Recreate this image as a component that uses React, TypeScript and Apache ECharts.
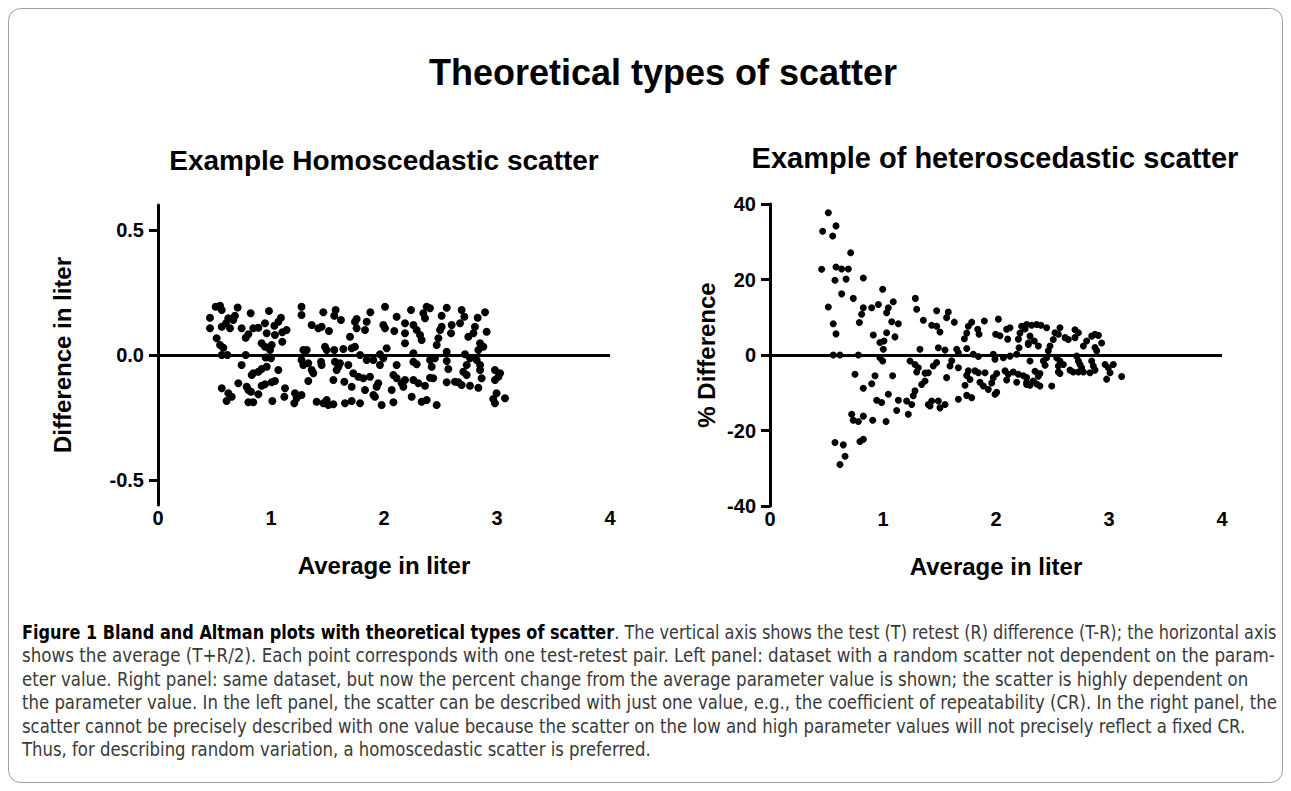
import React, { useEffect, useRef } from 'react';
import * as echarts from 'echarts';

const mainTitle = 'Theoretical types of scatter';
const leftTitle = 'Example Homoscedastic scatter';
const rightTitle = 'Example of heteroscedastic scatter';
const xAxisTitle = 'Average in liter';
const leftYAxisTitle = 'Difference in liter';
const rightYAxisTitle = '% Difference';
const leftYTicks = [-0.5, 0, 0.5];

// Left panel: difference in liter vs average in liter
const homoscedasticPoints: [number, number][] = [
  [0.51, 0.193], [0.549, 0.197], [0.564, 0.18], [0.705, 0.19], [0.82, 0.167], [0.982, 0.176], [1.27, 0.193],
  [0.46, 0.149], [0.622, 0.147], [0.681, 0.157], [0.666, 0.14], [0.602, 0.127], [0.564, 0.113], [0.637, 0.107],
  [0.74, 0.107], [0.843, 0.107], [0.888, 0.109], [0.947, 0.127], [1.03, 0.117], [1.088, 0.149], [1.065, 0.133],
  [1.138, 0.1], [1.1, 0.091], [1.27, 0.16], [0.46, 0.107], [0.799, 0.083], [0.776, 0.069], [0.962, 0.087],
  [1.035, 0.08], [1.1, 0.053], [0.519, 0.067], [0.549, 0.04], [0.578, 0.029], [0.917, 0.047], [0.947, 0.033],
  [1.006, 0.04], [0.991, 0.02], [0.564, 0], [0.614, 0], [0.776, 0], [0.953, -0.01], [1.0, -0.013], [1.286, 0.02],
  [1.27, -0.02], [1.286, -0.04], [0.74, -0.04], [0.843, -0.073], [0.888, -0.067], [0.829, -0.08], [1.065, -0.06],
  [0.917, -0.056], [0.962, -0.047], [0.711, -0.113], [0.785, -0.127], [0.8, -0.14], [0.947, -0.117], [1.006, -0.109],
  [1.035, -0.104], [0.917, -0.123], [0.564, -0.133], [0.622, -0.153], [0.652, -0.167], [0.607, -0.184], [0.823, -0.147],
  [0.888, -0.157], [0.8, -0.189], [0.843, -0.189], [1.012, -0.184], [1.118, -0.167], [1.124, -0.133], [1.212, -0.153],
  [1.227, -0.173], [1.206, -0.193], [1.27, -0.16],
  [1.463, 0.171], [1.572, 0.18], [1.56, 0.157], [1.619, 0.14], [1.879, 0.171], [2.009, 0.193], [2.239, 0.18],
  [2.112, 0.153], [1.758, 0.144], [1.743, 0.133], [1.847, 0.133], [1.994, 0.12], [2.009, 0.107], [2.091, 0.096],
  [2.186, 0.127], [2.186, 0.087], [2.26, 0.12], [1.36, 0.12], [1.419, 0.107], [1.448, 0.113], [1.513, 0.096],
  [1.758, 0.107], [1.832, 0.1], [1.699, 0.073], [2.186, 0.047], [1.478, 0.033], [1.493, 0.02], [1.56, 0.02],
  [1.64, 0.024], [1.714, 0.027], [1.743, 0.033], [2.024, 0.027], [1.964, 0.003], [1.994, -0.013], [1.788, 0.0],
  [1.847, -0.02], [1.906, -0.02], [1.316, 0.02], [2.26, 0.007], [1.33, -0.033], [1.36, -0.06], [1.375, -0.073],
  [1.443, -0.027], [1.448, -0.04], [1.566, -0.027], [1.596, -0.047], [1.61, -0.033], [1.581, -0.06], [1.684, -0.04],
  [1.964, -0.04], [2.112, -0.04], [2.26, -0.027], [1.728, -0.073], [1.773, -0.087], [1.817, -0.093], [1.876, -0.087],
  [1.552, -0.1], [1.33, -0.104], [1.649, -0.107], [1.714, -0.127], [1.832, -0.14], [1.949, -0.113], [1.935, -0.127],
  [2.083, -0.08], [2.112, -0.093], [2.156, -0.113], [2.186, -0.1], [2.171, -0.127], [2.068, -0.14], [2.26, -0.1],
  [1.906, -0.16], [1.92, -0.167], [2.245, -0.167], [1.404, -0.187], [1.463, -0.193], [1.493, -0.18], [1.507, -0.2],
  [1.552, -0.197], [1.655, -0.193], [1.714, -0.184], [1.788, -0.193], [1.979, -0.2], [2.083, -0.189],
  [2.378, 0.193], [2.407, 0.187], [2.348, 0.167], [2.363, 0.147], [2.555, 0.189], [2.687, 0.18], [2.711, 0.153],
  [2.894, 0.171], [2.829, 0.149], [2.51, 0.157], [2.599, 0.12], [2.51, 0.113], [2.496, 0.1], [2.673, 0.127],
  [2.593, 0.087], [2.805, 0.113], [2.791, 0.087], [2.746, 0.073], [2.908, 0.093], [2.481, 0.067], [2.466, 0.04],
  [2.289, 0.1], [2.319, 0.08], [2.333, 0.06], [2.85, 0.047], [2.879, 0.033], [2.835, 0.02], [2.555, 0.013],
  [2.717, 0.003], [2.761, -0.013], [2.82, -0.02], [2.407, -0.02], [2.451, -0.013], [2.289, -0.037], [2.422, -0.047],
  [2.555, -0.024], [2.569, -0.056], [2.732, -0.04], [2.85, -0.04], [2.85, -0.06], [2.982, -0.06], [3.027, -0.073],
  [3.012, -0.087], [2.982, -0.1], [2.407, -0.091], [2.436, -0.093], [2.702, -0.067], [2.732, -0.08], [2.864, -0.093],
  [2.628, -0.107], [2.658, -0.109], [2.555, -0.109], [2.687, -0.12], [2.761, -0.123], [2.835, -0.131], [2.304, -0.113],
  [2.363, -0.123], [2.996, -0.153], [3.071, -0.173], [2.967, -0.176], [2.982, -0.193], [2.333, -0.187], [2.378, -0.18],
  [2.466, -0.2],
];

// Right panel: % difference vs average in liter
const heteroscedasticPoints: [number, number][] = [
  [0.516, 37.7], [0.584, 34.2], [0.466, 32.8], [0.555, 31.5], [0.714, 27.1], [0.457, 22.7], [0.584, 23.3],
  [0.634, 22.8], [0.693, 22.8], [0.575, 19.8], [0.673, 20.1], [0.826, 20.4], [0.634, 16.2], [0.737, 15.0],
  [0.997, 17.4], [0.516, 12.7], [0.826, 12.5], [0.811, 10.8], [0.9, 12.5], [0.959, 13.4], [1.047, 12.5],
  [1.091, 14.1], [1.032, 11.2], [0.791, 8.6], [0.56, 8.3], [0.584, 5.6], [1.077, 8.8], [1.136, 8.3], [1.106, 4.8],
  [1.032, 5.9], [0.914, 5.3], [0.973, 3.3], [1.009, 3.7], [1.003, 1.5], [1.286, 15.0], [1.298, 12.1], [1.357, 9.2],
  [1.327, 1.5], [0.56, 0], [0.619, 0], [0.782, 0], [0.973, -0.7], [0.997, -1.6], [1.239, -1.6], [1.283, -2.5],
  [1.313, -3.4], [1.298, -4.5], [1.372, -4.8], [0.752, -5.1], [0.929, -5.5], [1.085, -5.5], [0.826, -8.8],
  [0.9, -7.6], [1.342, -7.8], [1.283, -9.5], [1.268, -10.8], [1.047, -10.4], [0.944, -12.0], [0.988, -12.6],
  [1.136, -12.0], [1.209, -12.2], [1.254, -13.1], [1.121, -14.7], [1.224, -15.7], [1.401, -13.1], [0.723, -15.7],
  [0.737, -17.3], [0.782, -17.6], [0.826, -16.2], [0.909, -17.3], [1.027, -17.6], [0.575, -23.2], [0.649, -23.8],
  [0.826, -22.3], [0.796, -22.9], [0.664, -26.8], [0.619, -29.0],
  [1.475, 11.7], [1.578, 11.4], [1.563, 9.9], [1.631, 8.7], [1.431, 7.9], [1.475, 7.6], [1.504, 6.1],
  [1.785, 8.7], [1.897, 9.0], [1.755, 7.6], [1.838, 6.8], [1.85, 5.5], [1.741, 5.8], [1.72, 4.3], [2.021, 9.5],
  [1.997, 5.5], [2.035, 5.1], [2.094, 6.8], [2.124, 7.2], [2.103, 4.2], [2.227, 7.6], [2.257, 6.9], [2.212, 5.8],
  [2.198, 4.2], [2.204, 1.9], [2.286, 3.2], [1.49, 1.9], [1.549, 1.3], [1.652, 1.5], [1.741, 1.7], [1.667, 0.6],
  [1.799, 0.2], [1.844, -0.4], [1.976, 0.2], [1.991, -1.1], [2.065, -0.7], [2.124, -0.3], [2.183, 0.2],
  [1.475, -2.0], [1.445, -2.9], [1.608, -1.5], [1.593, -2.9], [1.667, -3.4], [1.755, -4.2], [1.814, -4.2],
  [1.844, -4.7], [1.903, -4.7], [2.006, -4.9], [1.976, -6.0], [2.08, -4.2], [2.109, -5.1], [2.153, -4.5],
  [2.198, -5.1], [2.242, -5.5], [1.401, -4.7], [1.372, -6.9], [1.563, -6.0], [1.741, -5.4], [1.77, -6.5],
  [1.858, -7.2], [1.962, -7.4], [2.094, -6.6], [2.183, -7.2], [2.271, -6.0], [2.271, -7.8], [1.726, -8.0],
  [1.888, -8.2], [1.932, -9.1], [2.006, -9.9], [1.991, -10.4], [1.667, -11.7], [1.741, -10.7], [1.785, -11.3],
  [1.431, -12.2], [1.49, -12.2], [1.549, -13.1], [1.504, -14.0], [1.416, -13.5],
  [2.271, 8.1], [2.316, 7.9], [2.36, 8.1], [2.398, 7.9], [2.448, 7.2], [2.301, 5.0], [2.339, 3.7], [2.375, 2.4],
  [2.286, 2.8], [2.478, 2.4], [2.463, 1.1], [2.507, 4.1], [2.552, 5.5], [2.566, 7.2], [2.522, 5.9], [2.611, 4.6],
  [2.64, 4.1], [2.699, 6.7], [2.729, 5.9], [2.699, 4.6], [2.802, 3.7], [2.773, 2.4], [2.847, 5.0], [2.876, 5.5],
  [2.906, 5.2], [2.935, 3.2], [2.876, 2.0], [2.891, 1.1], [2.301, -1.6], [2.419, -1.6], [2.434, -2.7],
  [2.448, -0.7], [2.537, -0.7], [2.566, -1.6], [2.552, -2.9], [2.596, -2.5], [2.714, -0.3], [2.729, -1.6],
  [2.743, -2.5], [2.758, -3.4], [2.655, -4.0], [2.684, -4.5], [2.729, -4.5], [2.773, -4.5], [2.847, -1.6],
  [2.861, -2.9], [2.876, -4.0], [2.832, -4.7], [2.965, -2.5], [2.994, -3.4], [3.038, -2.5], [3.009, -4.7],
  [2.979, -6.4], [3.112, -5.7], [2.345, -4.3], [2.389, -4.9], [2.375, -5.6], [2.33, -6.9], [2.271, -7.3],
  [2.301, -8.0], [2.36, -7.7], [2.389, -8.2], [2.493, -8.2], [2.552, -4.5], [2.566, -4.9],
];

const captionBold = 'Figure 1 Bland and Altman plots with theoretical types of scatter';
const captionLines = [
  '. The vertical axis shows the test (T) retest (R) difference (T-R); the horizontal axis',
  'shows the average (T+R/2). Each point corresponds with one test-retest pair. Left panel: dataset with a random scatter not dependent on the param-',
  'eter value. Right panel: same dataset, but now the percent change from the average parameter value is shown; the scatter is highly dependent on',
  'the parameter value. In the left panel, the scatter can be described with just one value, e.g., the coefficient of repeatability (CR). In the right panel, the',
  'scatter cannot be precisely described with one value because the scatter on the low and high parameter values will not precisely reflect a fixed CR.',
  'Thus, for describing random variation, a homoscedastic scatter is preferred.',
];
// Target widths of the full lines (the last, short line uses the mean scale)
const captionWidths = [1254, 1253, 1226, 1255, 1223];
const captionCenters = [633, 656, 680, 703, 727, 750];

const FONT = '"Liberation Sans", Arial, Helvetica, sans-serif';

function buildOption(): any {
  const axisTitleStyle = { fontSize: 24, fontWeight: 'bold', color: '#000', fontFamily: FONT };
  const tickLabelStyle = { fontSize: 20, fontWeight: 'bold', color: '#000', fontFamily: FONT };
  const zeroLine = {
    silent: true,
    symbol: ['none', 'none'],
    label: { show: false },
    lineStyle: { color: '#000', width: 3, type: 'solid', opacity: 1 },
    emphasis: { disabled: true },
    data: [[{ coord: [0, 0] }, { coord: [4, 0] }]],
  };
  const xAxis = [0, 1].map((i) => ({
    type: 'value',
    gridIndex: i,
    min: 0,
    max: 4,
    interval: 1,
    axisLine: { show: false, onZero: false },
    axisTick: { show: false },
    splitLine: { show: false },
    axisLabel: { ...tickLabelStyle, margin: 3 },
    name: xAxisTitle,
    nameLocation: 'middle',
    nameGap: 48,
    nameTextStyle: axisTitleStyle,
  }));
  return {
    animation: false,
    backgroundColor: '#fff',
    grid: [
      { left: 158, top: 205, width: 452, height: 300 },
      { left: 770, top: 204, width: 452, height: 302 },
    ],
    xAxis,
    yAxis: [
      {
        type: 'value',
        gridIndex: 0,
        min: -0.6,
        max: 0.6,
        axisLine: { show: true, onZero: false, lineStyle: { color: '#000', width: 3 } },
        axisTick: { show: true, customValues: leftYTicks, length: 9, lineStyle: { color: '#000', width: 3 } },
        axisLabel: { ...tickLabelStyle, customValues: leftYTicks, margin: 14, formatter: (v: number) => v.toFixed(1) },
        splitLine: { show: false },
        name: leftYAxisTitle,
        nameLocation: 'middle',
        nameRotate: 90,
        nameGap: 84,
        nameTextStyle: axisTitleStyle,
      },
      {
        type: 'value',
        gridIndex: 1,
        min: -40,
        max: 40,
        interval: 20,
        axisLine: { show: true, onZero: false, lineStyle: { color: '#000', width: 3 } },
        axisTick: { show: true, length: 9, lineStyle: { color: '#000', width: 3 } },
        axisLabel: { ...tickLabelStyle, margin: 14 },
        splitLine: { show: false },
        name: rightYAxisTitle,
        nameLocation: 'middle',
        nameRotate: 90,
        nameGap: 52,
        nameTextStyle: axisTitleStyle,
      },
    ],
    series: [
      {
        type: 'scatter',
        xAxisIndex: 0,
        yAxisIndex: 0,
        data: homoscedasticPoints,
        symbolSize: 8,
        itemStyle: { color: '#000', opacity: 1 },
        markLine: zeroLine,
      },
      {
        type: 'scatter',
        xAxisIndex: 1,
        yAxisIndex: 1,
        data: heteroscedasticPoints,
        symbolSize: 7,
        itemStyle: { color: '#000', opacity: 1 },
        markLine: zeroLine,
      },
    ],
    graphic: [
      {
        type: 'rect',
        silent: true,
        shape: { x: 8.5, y: 8.5, width: 1274, height: 774, r: 12 },
        style: { fill: 'none', stroke: '#a0a0a0', lineWidth: 1 },
      },
      {
        type: 'text',
        x: 663,
        y: 72,
        style: {
          text: mainTitle, fontSize: 36, fontWeight: 'bold', fontFamily: FONT, fill: '#000',
          textAlign: 'center', textVerticalAlign: 'middle', align: 'center', verticalAlign: 'middle',
        },
      },
      {
        type: 'text',
        x: 384,
        y: 160,
        style: {
          text: leftTitle, fontSize: 28, fontWeight: 'bold', fontFamily: FONT, fill: '#000',
          textAlign: 'center', textVerticalAlign: 'middle', align: 'center', verticalAlign: 'middle',
        },
      },
      {
        type: 'text',
        x: 995,
        y: 158,
        style: {
          text: rightTitle, fontSize: 29, fontWeight: 'bold', fontFamily: FONT, fill: '#000',
          textAlign: 'center', textVerticalAlign: 'middle', align: 'center', verticalAlign: 'middle',
        },
      },
    ],
  };
}

export default function App() {
  const chartRef = useRef<HTMLDivElement>(null);
  const lineRefs = useRef<(HTMLSpanElement | null)[]>([]);

  useEffect(() => {
    const chart = echarts.init(chartRef.current as HTMLDivElement, null, { renderer: 'svg' });
    chart.setOption(buildOption());
    const scales: number[] = [];
    lineRefs.current.forEach((el, i) => {
      if (!el || i >= captionWidths.length) return;
      const w = el.offsetWidth;
      if (w > 0) scales[i] = captionWidths[i] / w;
    });
    const valid = scales.filter((s) => s > 0);
    const mean = valid.length ? valid.reduce((a, b) => a + b, 0) / valid.length : 1;
    lineRefs.current.forEach((el, i) => {
      if (!el) return;
      const s = scales[i] > 0 ? scales[i] : mean;
      el.style.transform = `scaleX(${s})`;
    });
    return () => chart.dispose();
  }, []);

  const lineHeight = 23.5;
  return (
    <div>
      <div
        ref={chartRef}
        style={{ position: 'fixed', left: 0, top: 0, width: 1291, height: 791 }}
      />
      {captionLines.map((line, i) => (
        <div
          key={i}
          style={{
            position: 'fixed',
            left: 22,
            top: captionCenters[i] - lineHeight / 2,
            height: lineHeight,
            lineHeight: `${lineHeight}px`,
            whiteSpace: 'nowrap',
            zIndex: 2,
          }}
        >
          <span
            ref={(el) => { lineRefs.current[i] = el; }}
            style={{
              display: 'inline-block',
              transformOrigin: 'left center',
              fontFamily: '"Liberation Sans Narrow", "DejaVu Sans Condensed", "Open Sans", sans-serif',
              fontSize: 19.5,
              color: '#3a3a3a',
            }}
          >
            {i === 0 ? <b style={{ color: '#000' }}>{captionBold}</b> : null}
            {line}
          </span>
        </div>
      ))}
    </div>
  );
}
